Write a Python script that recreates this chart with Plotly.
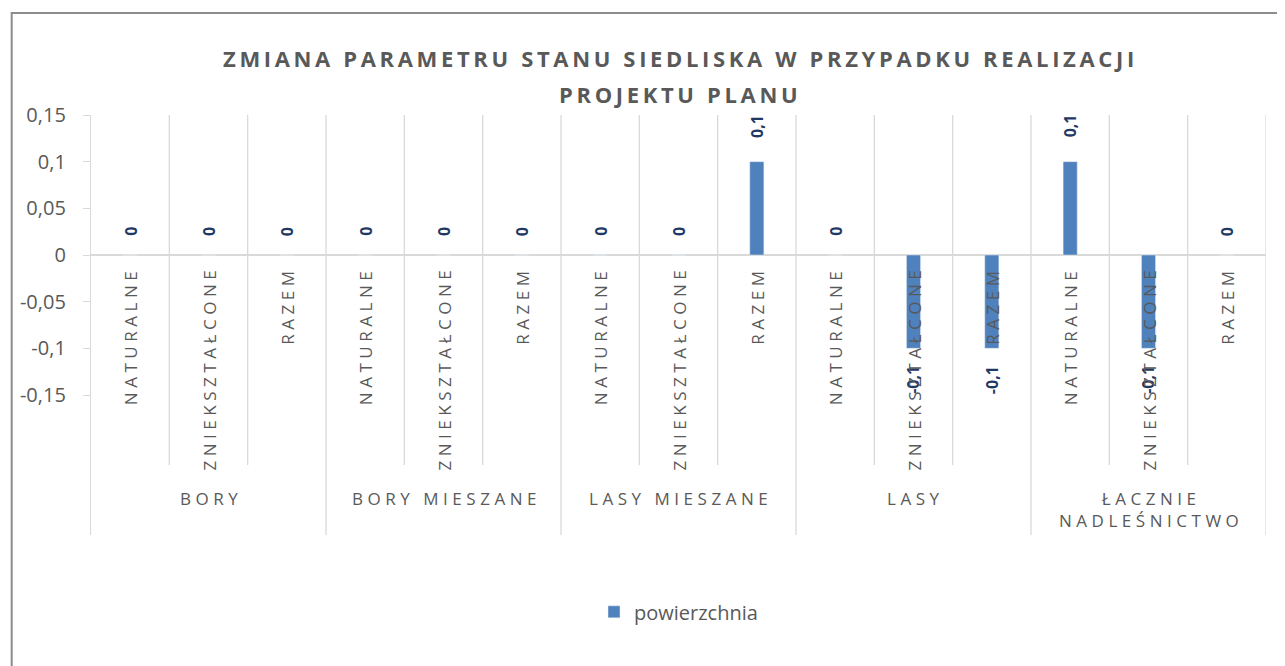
import plotly.graph_objects as go

# ── Data
GROUPS = ['BORY', 'BORY MIESZANE', 'LASY MIESZANE', 'LASY', 'ŁACZNIE<br>NADLEŚNICTWO']
SUBCATS = ['NATURALNE', 'ZNIEKSZTAŁCONE', 'RAZEM']
VALUES = [0, 0, 0,
          0, 0, 0,
          0, 0, 0.1,
          0, -0.1, -0.1,
          0.1, -0.1, 0]
Y_TICKS = [0.15, 0.1, 0.05, 0, -0.05, -0.1, -0.15]
Y_TICK_TEXT = ['0,15', '0,1', '0,05', '0', '-0,05', '-0,1', '-0,15']
SERIES_NAME = 'powierzchnia'
TITLE_LINES = ['ZMIANA PARAMETRU STANU SIEDLISKA W PRZYPADKU REALIZACJI', 'PROJEKTU PLANU']

# ── Style
FONT = 'Open Sans'
GREY_TXT = '#595959'
GRID = '#D9D9D9'
BAR_COLOR = '#4F81BD'
LABEL_COLOR = '#1F3864'
Y_MIN, Y_MAX = -0.3, 0.15
INNER_BOTTOM = -0.225
WIDE_GAP = '\u2009\u200a'


def spaced(s, gap=WIDE_GAP):
    # imitate Excel character spacing
    return '<br>'.join(gap.join(part) for part in s.split('<br>'))


def fmt(v):
    return f'{v:g}'.replace('.', ',')


n_sub = len(SUBCATS)
xs = list(range(len(VALUES)))
cat_labels = [SUBCATS[i % n_sub] for i in xs]

fig = go.Figure()
fig.add_trace(go.Bar(x=xs, y=VALUES, width=0.18, marker_color=BAR_COLOR,
                     name=SERIES_NAME, showlegend=True))

annotations = []
# data labels
for x, v in zip(xs, VALUES):
    annotations.append(dict(x=x, y=v, xref='x', yref='y', text=f'<b>{fmt(v)}</b>', textangle=-90,
                            showarrow=False, yanchor='top' if v < 0 else 'bottom',
                            yshift=-16 if v < 0 else (17 if v == 0 else 22),
                            font=dict(family=FONT, size=16, color=LABEL_COLOR)))
# category labels
for x, lab in zip(xs, cat_labels):
    annotations.append(dict(x=x, y=0, xref='x', yref='y', text=spaced(lab), textangle=-90,
                            showarrow=False, yanchor='top', yshift=-14,
                            font=dict(family=FONT, size=17, color=GREY_TXT)))
# group labels
for g, name in enumerate(GROUPS):
    annotations.append(dict(x=g * n_sub + 1, y=INNER_BOTTOM, xref='x', yref='y', text=spaced(name),
                            showarrow=False, yanchor='top', yshift=-20,
                            font=dict(family=FONT, size=17, color=GREY_TXT)))
# title
for line, ypos in zip(TITLE_LINES, [1.136, 1.05]):
    annotations.append(dict(x=0.5, y=ypos, xref='paper', yref='paper',
                            text=f'<b>{spaced(line, gap=chr(0x2009))}</b>',
                            showarrow=False, yanchor='middle', xanchor='center',
                            font=dict(family=FONT, size=22, color=GREY_TXT)))

shapes = []
for i in range(len(VALUES)):
    xb = i + 0.5
    bottom = Y_MIN if (i + 1) % n_sub == 0 else INNER_BOTTOM
    shapes.append(dict(type='line', xref='x', yref='y', x0=xb, x1=xb, y0=Y_MAX, y1=bottom,
                       line=dict(color=GRID, width=1.3), layer='below'))
# chart border
shapes.append(dict(type='rect', xref='paper', yref='paper', x0=-0.0675, x1=1.2, y0=1.243, y1=-0.6,
                   line=dict(color='#8C8C8C', width=2), fillcolor='rgba(0,0,0,0)'))

# page body adds an 8px margin, so the figure is 8px smaller and margins shifted
fig.update_layout(
    width=1277, height=658,
    margin=dict(l=80, r=19, t=107, b=131),
    plot_bgcolor='white', paper_bgcolor='white',
    font=dict(family=FONT, color=GREY_TXT),
    xaxis=dict(visible=False, range=[-0.5, len(VALUES) - 0.5], fixedrange=True),
    yaxis=dict(range=[Y_MIN, Y_MAX], tickvals=Y_TICKS, ticktext=Y_TICK_TEXT,
               showgrid=False, showline=True, linecolor=GRID, linewidth=1.3,
               ticks='outside', ticklen=7, tickcolor=GRID, tickwidth=1.3,
               zeroline=True, zerolinecolor=GRID, zerolinewidth=2,
               tickfont=dict(family=FONT, size=20, color=GREY_TXT), ticklabelstandoff=13),
    legend=dict(orientation='h', x=0.5, xanchor='center', y=-0.183, yanchor='middle',
                font=dict(family=FONT, size=20, color=GREY_TXT)),
    annotations=annotations,
    shapes=shapes,
    showlegend=True,
)

fig.write_html('out.html')
